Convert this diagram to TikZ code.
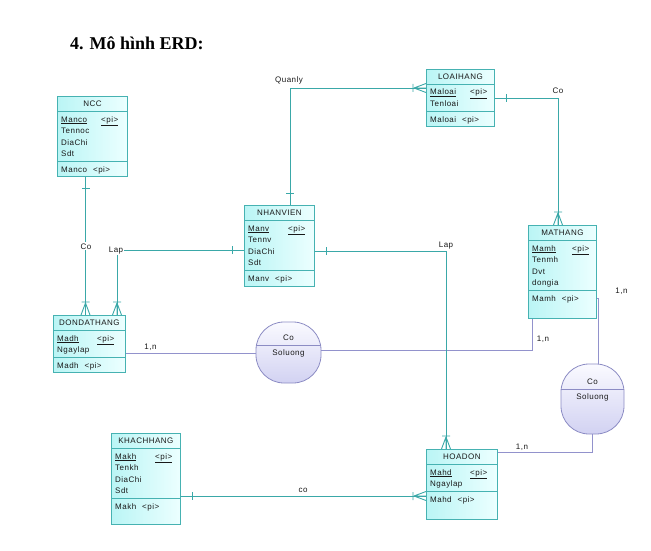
\documentclass[tikz,border=0pt]{standalone}
\usepackage{fontspec}
\setmainfont{Liberation Serif}
\newfontfamily\erdfont[LetterSpace=6]{Liberation Sans}
\usetikzlibrary{calc,decorations.markings}

\definecolor{entborder}{RGB}{70,178,178}
\definecolor{entleft}{RGB}{186,245,245}
\definecolor{entright}{RGB}{236,255,255}
\definecolor{linkteal}{RGB}{58,168,168}
\definecolor{assocborder}{RGB}{140,140,196}
\definecolor{assoctop}{RGB}{250,250,255}
\definecolor{assocbottom}{RGB}{210,210,242}
\definecolor{assoclink}{RGB}{146,146,204}

\tikzset{
  entbox/.style={draw=entborder, line width=0.8pt, left color=entleft, right color=entright, inner sep=0pt},
  entline/.style={draw=entborder, line width=0.8pt},
  entext/.style={font=\erdfont\fontsize{8}{9}\selectfont, inner sep=0pt, text=black!90},
  assocbox/.style={draw=assocborder, line width=0.8pt, top color=assoctop, bottom color=assocbottom, rounded corners=28pt, inner sep=0pt},
  assocline/.style={draw=assocborder, line width=0.8pt},
  link/.style={draw=linkteal, line width=0.9pt},
  assoclinkline/.style={draw=assoclink, line width=0.7pt},
  onestart/.style={postaction={decorate, decoration={markings, mark=at position 12pt with {\draw[link] (0,-4) -- (0,4);}}}},
  manyend/.style={postaction={decorate, decoration={markings, mark=at position 1 with {\draw[link] (-13,-4) -- (-13,4) (-12,0) -- (0,-4.5) (-12,0) -- (0,0) (-12,0) -- (0,4.5);}}}},
  linklabel/.style={font=\erdfont\fontsize{8}{9}\selectfont, inner sep=1pt, text=black!90},
}

\newcommand{\pkey}[1]{\makebox[40pt][l]{\underline{#1}}\underline{<pi>}}

% name, x, y, width, height, title, rows, attributes, identifier
\newcommand{\entity}[9]{%
  \node[entbox, minimum width=#4pt, minimum height=#5pt, anchor=north west] (#1) at (#2,#3) {};
  \node[entext, anchor=base] (#1-title) at ($(#1.north)+(0,10.5)$) {#6};
  \draw[entline] ($(#1.north west)+(0,15)$) -- ($(#1.north east)+(0,15)$);
  \foreach \attr [count=\row] in {#8}
    \node[entext, anchor=base west] (#1-\row) at ($(#1.north west)+(4,{26+11.5*(\row-1)})$) {\attr};
  \draw[entline] ($(#1.north west)+(0,{19+11.5*#7})$) -- ($(#1.north east)+(0,{19+11.5*#7})$);
  \node[entext, anchor=base west] (#1-id) at ($(#1.north west)+(4,{30+11.5*#7})$) {#9};
}

% name, x, y, width, height, divider, name text, attribute
\newcommand{\assoc}[8]{%
  \node[assocbox, minimum width=#4pt, minimum height=#5pt,
    path picture={\draw[assocline] ($(path picture bounding box.north west)+(0,#6)$) -- ++(#4,0);}] (#1) at (#2,#3) {};
  \node[entext, anchor=base] (#1-name) at ($(#1.north)+(0,{#6-4.5})$) {#7};
  \node[entext, anchor=base] (#1-attr) at ($(#1.north)+(0,{#6+11})$) {#8};
}

\begin{document}
\begin{tikzpicture}[x=1pt, y=-1pt]
  \useasboundingbox (0,0) rectangle (651,551);
  \node[anchor=base west, inner sep=0pt, font=\bfseries\fontsize{18}{20}\selectfont] (title) at (70,50) {4. Mô hình ERD:};

  % entities
  \entity{ncc}{57}{96}{70}{80}{NCC}{4}{\pkey{Manco},Tennoc,DiaChi,Sdt}{Manco\hspace{6pt}<pi>}
  \entity{lh}{426}{69}{68}{57}{LOAIHANG}{2}{\pkey{Maloai},Tenloai}{Maloai\hspace{6pt}<pi>}
  \entity{nv}{244}{205}{70}{81}{NHANVIEN}{4}{\pkey{Manv},Tennv,DiaChi,Sdt}{Manv\hspace{6pt}<pi>}
  \entity{mh}{528}{225}{68}{93}{MATHANG}{4}{\pkey{Mamh},Tenmh,Dvt,dongia}{Mamh\hspace{6pt}<pi>}
  \entity{ddh}{53}{315}{72}{57}{DONDATHANG}{2}{\pkey{Madh},Ngaylap}{Madh\hspace{6pt}<pi>}
  \entity{kh}{111}{433}{69}{91}{KHACHHANG}{4}{\pkey{Makh},Tenkh,DiaChi,Sdt}{Makh\hspace{6pt}<pi>}
  \entity{hd}{426}{449}{71}{70}{HOADON}{2}{\pkey{Mahd},Ngaylap}{Mahd\hspace{6pt}<pi>}

  % associations
  \assoc{co1}{288.5}{352.5}{65}{61}{23}{Co}{Soluong}
  \assoc{co2}{592.5}{399}{63}{70}{25}{Co}{Soluong}

  % association links
  \coordinate (ddhr) at ($(ddh.north east)+(0,38)$);
  \draw[assoclinkline] (ddhr) -- (ddhr -| co1.west);
  \coordinate (co1r) at ($(co1.east)+(0,-2.5)$);
  \coordinate (mhb) at ($(mh.south west)+(4,0)$);
  \draw[assoclinkline] (co1r) -| (mhb);
  \coordinate (mhr) at ($(mh.south east)+(0,-20)$);
  \draw[assoclinkline] (mhr) -- ++(2,0) coordinate (mhr2) -- (mhr2 |- co2.north);
  \coordinate (hdr) at ($(hd.north east)+(0,3)$);
  \draw[assoclinkline] (co2.south) |- (hdr);

  % relationships
  \coordinate (nccb) at ($(ncc.south west)+(28.5,0)$);
  \draw[link, onestart, manyend] (nccb) -- (nccb |- ddh.north);
  \coordinate (nvl) at ($(nv.north west)+(0,45)$);
  \coordinate (ddht) at ($(ddh.north west)+(64,0)$);
  \draw[link, onestart, manyend] (nvl) -| (ddht);
  \coordinate (nvt) at ($(nv.north west)+(46,0)$);
  \coordinate (lhl) at ($(lh.north west)+(0,19)$);
  \draw[link, onestart, manyend] (nvt) |- (lhl);
  \coordinate (lhr) at ($(lh.north east)+(0,29)$);
  \coordinate (mht) at ($(mh.north west)+(30,0)$);
  \draw[link, onestart, manyend] (lhr) -| (mht);
  \coordinate (nvr) at ($(nv.north east)+(0,46)$);
  \coordinate (hdt) at ($(hd.north west)+(20,0)$);
  \draw[link, onestart, manyend] (nvr) -| (hdt);
  \coordinate (khr) at ($(kh.north east)+(0,63)$);
  \draw[link, onestart, manyend] (khr) -- (khr -| hd.west);

  % labels
  \node[linklabel, fill=white, anchor=base] (lbco1) at (86,249) {Co};
  \node[linklabel, fill=white, anchor=base] (lblap1) at (116,252) {Lap};
  \node[linklabel, anchor=base] (lbquanly) at (289,83) {Quanly};
  \node[linklabel, anchor=base] (lbco2) at (558,93) {Co};
  \node[linklabel, anchor=base] (lblap2) at (446,247) {Lap};
  \node[linklabel, anchor=base] (lbco3) at (303,492) {co};
  \node[linklabel, anchor=base] (lbn1) at (150.5,349) {1,n};
  \node[linklabel, anchor=base] (lbn2) at (543,341) {1,n};
  \node[linklabel, anchor=base] (lbn3) at (621.5,293) {1,n};
  \node[linklabel, anchor=base] (lbn4) at (522,449) {1,n};
\end{tikzpicture}
\end{document}
